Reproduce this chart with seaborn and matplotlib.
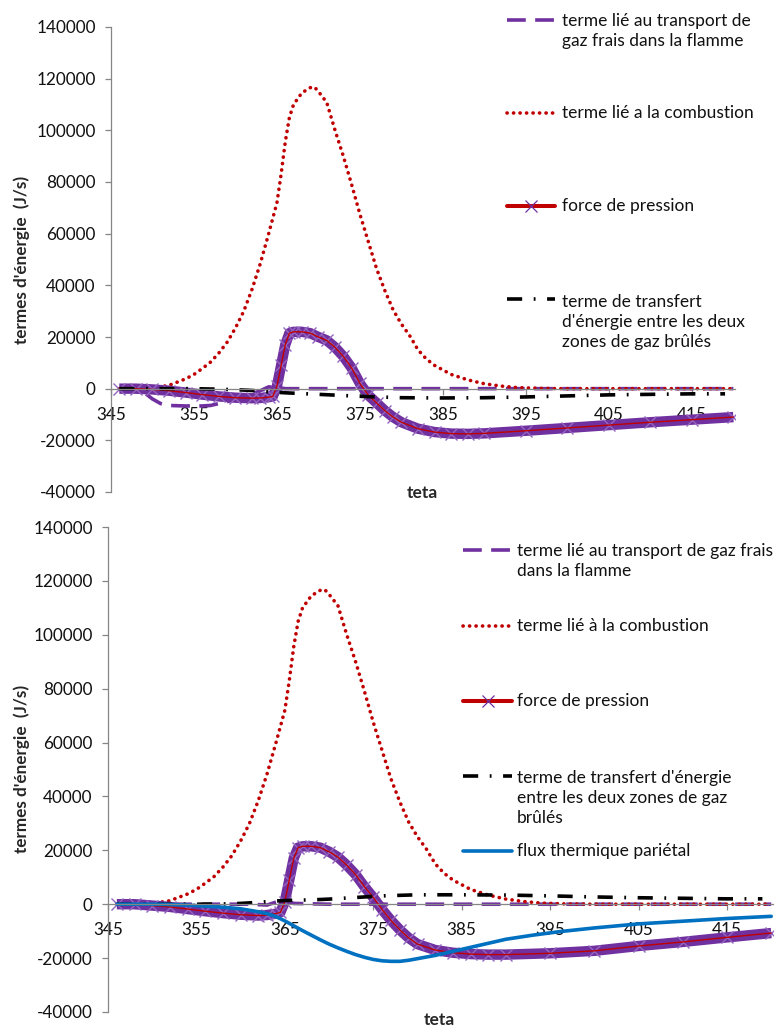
import numpy as np
import pandas as pd
import matplotlib
matplotlib.use("Agg")
import matplotlib.pyplot as plt
import seaborn as sns
from matplotlib.lines import Line2D

sns.set_theme(style="white")
plt.rcParams['font.family'] = ['Lato', 'DejaVu Sans']

# ---------------- data ----------------
x_ticks = [345, 355, 365, 375, 385, 395, 405, 415]
y_ticks = [-40000, -20000, 0, 20000, 40000, 60000, 80000, 100000, 120000, 140000]

# terme lié au transport de gaz frais dans la flamme
teta_gf = [346, 348, 349, 350, 351, 352, 354, 356, 357, 359, 361, 363, 364, 365, 366, 370, 380, 390, 400, 410, 420]
gf_top = [0, 0, -1500, -4000, -5800, -6500, -6700, -6700, -6500, -5000, -3200, -800, 700, 500, 0, 0, 0, 0, 0, 0, 0]
gf_bot = [0, 0, 0, 0, 0, 0, 0, 0, 0, 0, 0, -300, 800, 1500, 300, 0, 0, 0, 0, 0, 0]

# terme lié à la combustion
teta_comb = [346, 348, 350, 352, 354, 355, 356, 357, 358, 359, 360, 361, 362, 363, 364, 365, 365.5,
             366, 366.5, 367, 368, 369, 369.5, 370, 371, 372, 373, 374, 375, 376, 377, 378, 379,
             380, 381, 382, 383, 384, 386, 388, 390, 392, 394, 397, 400, 410, 420]
comb = [0, 0, 300, 1300, 3800, 5500, 7800, 10300, 13800, 18000, 23500, 30000, 38500, 48500, 60000, 72000, 83000,
        95500, 105000, 110000, 114500, 116500, 116800, 115000, 110800, 100000, 90000, 79000, 67500, 57000, 46500, 38000, 30500,
        25000, 20500, 15000, 11500, 9000, 5500, 3400, 1900, 1000, 400, 100, 0, 0, 0]

# force de pression
teta_fp = [346, 348, 350, 352, 354, 356, 358, 360, 362, 363, 364, 364.5, 365, 365.5, 366, 366.5, 367, 368, 369,
           370, 371, 372, 373, 374, 375, 376, 377, 378, 379, 380, 382, 384, 386, 388, 390, 395, 400, 405, 410, 415, 420]
fp_top = [0, 0, -300, -800, -1500, -2300, -3000, -3500, -3700, -3600, -3300, -3000, 1000, 9000, 17000, 21500, 22000, 22000, 21500,
          20000, 18700, 16000, 12500, 8000, 2000, -2500, -5500, -8500, -11000, -13000, -15500, -16800, -17400, -17500, -17300,
          -16300, -15200, -14100, -13000, -12000, -11000]
fp_bot = [0, 0, -500, -1000, -1800, -2600, -3300, -3900, -4200, -4000, -3500, -3000, 1000, 9000, 17000, 21000, 21500, 21500, 21000,
          19500, 17500, 14500, 11000, 6500, 2500, -2000, -6000, -9500, -12500, -14800, -17000, -18000, -18500, -18700, -18700,
          -18200, -17300, -15500, -14000, -12300, -10700]

# terme de transfert d'énergie entre les deux zones de gaz brûlés
teta_tr = [346, 350, 355, 358, 360, 362, 364, 366, 368, 370, 372, 374, 376, 378, 380, 385, 390, 395, 400, 405, 410, 415, 419]
tr_top = [0, 0, 0, -200, -400, -700, -1200, -1600, -1900, -2200, -2500, -2800, -3100, -3300, -3500, -3600, -3500, -3200,
          -2800, -2400, -2200, -2000, -2000]
tr_bot = [0, 0, 0, 100, 300, 700, 1200, 1500, 1600, 1900, 2300, 2700, 3100, 3300, 3500, 3500, 3400, 3100,
          2700, 2400, 2200, 2000, 2000]

# flux thermique pariétal
teta_flux = [346, 350, 352, 354, 356, 358, 360, 362, 363, 364, 365, 366, 367, 368, 369, 370, 371, 372, 373, 374, 375,
             376, 377, 378, 379, 380, 382, 384, 386, 388, 390, 393, 396, 400, 405, 410, 415, 420]
flux = [0, 0, -100, -350, -700, -1100, -1700, -2800, -3500, -4600, -6200, -8000, -9800, -11500, -13200, -14800, -16200,
        -17500, -18700, -19700, -20500, -21000, -21200, -21200, -20800, -20200, -19000, -17500, -16000, -14500, -13000,
        -11500, -10200, -8800, -7300, -6300, -5300, -4500]

labels_top = ["terme lié au transport de\ngaz frais dans la flamme",
              "terme lié a la combustion",
              "force de pression",
              "terme de transfert\nd'énergie entre les deux\nzones de gaz brûlés"]
labels_bot = ["terme lié au transport de gaz frais\ndans la flamme",
              "terme lié à la combustion",
              "force de pression",
              "terme de transfert d'énergie\nentre les deux zones de gaz\nbrûlés",
              "flux thermique pariétal"]
ylabel = "termes d'énergie  (J/s)"
xlabel = "teta"

# ---------------- styles ----------------
PURPLE = '#7030A0'
RED = '#C00000'
BLUE = '#0070C0'
BLACK = '#000000'
GRAY = '#868686'
LW = 2.6
DASH = (0, (5.2, 2.6))
DOT = (0, (0.05, 1.75))
DASHDOT = (0, (4.2, 3.2, 0.5, 3.2))
FS_TICK = 12.3
FS_LEG = 12.5

W, H = 777, 1032
fig = plt.figure(figsize=(W / 100, H / 100), dpi=100)


def px_axes(l, r, t, b):
    return fig.add_axes([l / W, 1 - b / H, (r - l) / W, (b - t) / H])


def style(ax):
    ax.set_xlim(345, 420.2)
    ax.set_ylim(-40000, 140000)
    ax.set_xticks(x_ticks)
    ax.set_yticks(y_ticks)
    ax.set_xticklabels([str(v) for v in x_ticks])
    ax.set_yticklabels([str(v) for v in y_ticks])
    for s in ['top', 'right']:
        ax.spines[s].set_visible(False)
    ax.spines['bottom'].set_position(('data', 0))
    for s in ['left', 'bottom']:
        ax.spines[s].set_color(GRAY)
        ax.spines[s].set_linewidth(0.9)
    ax.tick_params(axis='both', which='major', direction='out', length=4, width=0.9,
                   color=GRAY, labelsize=FS_TICK, labelcolor='#111111', bottom=True, left=True)
    ax.tick_params(axis='x', pad=9)
    ax.tick_params(axis='y', pad=7)
    ax.set_xlabel('')
    ax.set_ylabel('')
    ax.grid(False)
    ax.set_facecolor('none')


def draw_force(ax, y):
    sns.lineplot(x=teta_fp, y=y, ax=ax, color=PURPLE, linewidth=7.5, solid_capstyle='butt',
                 solid_joinstyle='round', estimator=None, sort=False)
    sns.lineplot(x=teta_fp, y=y, ax=ax, color=PURPLE, linewidth=0, marker='x', markersize=9,
                 markeredgewidth=1.0, markeredgecolor='#9466c0', estimator=None, sort=False)
    sns.lineplot(x=teta_fp, y=y, ax=ax, color=RED, linewidth=1.0, estimator=None, sort=False)


# ---------------- top panel ----------------
ax1 = px_axes(111, 735, 27, 492)
sns.lineplot(x=teta_gf, y=gf_top, ax=ax1, color=PURPLE, linewidth=LW, linestyle=DASH, estimator=None, sort=False)
sns.lineplot(x=teta_comb, y=comb, ax=ax1, color=RED, linewidth=LW, linestyle=DOT, dash_capstyle='round',
             estimator=None, sort=False)
draw_force(ax1, fp_top)
sns.lineplot(x=teta_tr, y=tr_top, ax=ax1, color=BLACK, linewidth=LW, linestyle=DASHDOT, estimator=None, sort=False)
style(ax1)

# ---------------- bottom panel ----------------
ax2 = px_axes(108, 773, 527, 1012)
sns.lineplot(x=teta_gf, y=gf_bot, ax=ax2, color=PURPLE, linewidth=LW, linestyle=DASH, estimator=None, sort=False)
sns.lineplot(x=teta_comb, y=comb, ax=ax2, color=RED, linewidth=LW, linestyle=DOT, dash_capstyle='round',
             estimator=None, sort=False)
draw_force(ax2, fp_bot)
sns.lineplot(x=teta_tr, y=tr_bot, ax=ax2, color=BLACK, linewidth=LW, linestyle=DASHDOT, estimator=None, sort=False)
sns.lineplot(x=teta_flux, y=flux, ax=ax2, color=BLUE, linewidth=LW, estimator=None, sort=False)
style(ax2)

# ---------------- axis titles ----------------
fig.text(22 / W, 1 - 260 / H, ylabel, rotation=90, ha='center', va='center', fontsize=12.3, fontweight='bold')
fig.text(22 / W, 1 - 769 / H, ylabel, rotation=90, ha='center', va='center', fontsize=12.3, fontweight='bold')
fig.text(422 / W, 1 - 493 / H, xlabel, ha='center', va='center', fontsize=12.5, fontweight='bold')
fig.text(439 / W, 1 - 1020 / H, xlabel, ha='center', va='center', fontsize=12.5, fontweight='bold')

# ---------------- legends ----------------
handle_styles = [
    dict(color=PURPLE, lw=LW, ls=DASH),
    dict(color=RED, lw=LW, ls=DOT, dash_capstyle='round'),
    dict(color=RED, lw=LW + 0.3, ls='-', marker='x', markevery=[1], markersize=8,
         markeredgecolor=PURPLE, markeredgewidth=0.9),
    dict(color=BLACK, lw=LW, ls=DASHDOT),
    dict(color=BLUE, lw=LW, ls='-'),
]


def legend(x0, x1, xt, rows, labels):
    for i, ((yh, yc), lab) in enumerate(zip(rows, labels)):
        st = handle_styles[i]
        fig.add_artist(Line2D([x0 / W, (x0 + x1) / 2 / W, x1 / W], [1 - yh / H] * 3, transform=fig.transFigure, **st))
        fig.text(xt / W, 1 - yc / H, lab, ha='left', va='center', fontsize=FS_LEG, linespacing=1.28, color='#111111')


legend(507, 555, 562, [(20, 31), (113, 113), (206, 206), (299, 322)], labels_top)
legend(463, 512, 517, [(550, 561), (626, 626), (701, 701), (776, 798), (851, 851)], labels_bot)

fig.savefig('out.png', dpi=100)
